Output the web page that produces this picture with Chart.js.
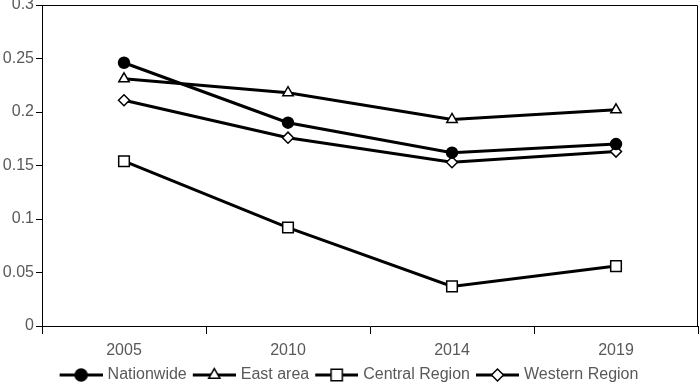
<!doctype html>
<html lang="en">
  <head>
    <meta charset="utf-8">
    <title>Regional index 2005-2019</title>
    <script src="https://cdn.jsdelivr.net/npm/chart.js"></script>
    <style>
      html, body { margin: 0; padding: 0; background: #fff; }
      #wrap { width: 699px; height: 383px; }
    </style>
  </head>
  <body>
    <div id="wrap"><canvas id="lineChart" width="699" height="383"></canvas></div>
    <script>
    // data
    const years = ['2005', '2010', '2014', '2019'];
    const nationwide = [0.246, 0.190, 0.162, 0.170];
    const eastArea = [0.231, 0.218, 0.193, 0.202];
    const centralRegion = [0.154, 0.092, 0.037, 0.056];
    const westernRegion = [0.211, 0.176, 0.153, 0.163];
    const yTickLabels = ['0', '0.05', '0.1', '0.15', '0.2', '0.25', '0.3'];

    const textGray = '#595959';
    const fontName = "'Liberation Sans', Arial, sans-serif";

    // marker styles for each series
    const markers = [
      { style: 'circle', radius: 5.5, fill: '#000' },
      { style: 'triangle', radius: 6, fill: '#fff' },
      { style: 'rect', radius: 7.5, fill: '#fff' },
      { style: 'rectRot', radius: 5.5, fill: '#fff' }
    ];

    // legend icon: short line with the marker in the middle
    function makeIcon(m) {
      const c = document.createElement('canvas');
      c.width = 46;
      c.height = 20;
      const g = c.getContext('2d');
      g.strokeStyle = '#000';
      g.lineWidth = 3;
      g.beginPath();
      g.moveTo(3, 10);
      g.lineTo(46, 10);
      g.stroke();
      g.fillStyle = m.fill;
      g.lineWidth = 1.5;
      Chart.helpers.drawPoint(g, { pointStyle: m.style, radius: m.radius + 0.5, rotation: 0, borderWidth: 1.5 }, 24.5, 10);
      return c;
    }
    const icons = markers.map(makeIcon);

    function makeSet(label, values, m) {
      return {
        label: label,
        data: values,
        borderColor: '#000',
        borderWidth: 3,
        pointStyle: m.style,
        pointRadius: m.radius,
        pointHoverRadius: m.radius,
        pointBackgroundColor: m.fill,
        pointBorderColor: '#000',
        pointBorderWidth: 1.5,
        tension: 0,
        fill: false
      };
    }

    // thin frame round the plot area (top and right edges)
    const plotFrame = {
      id: 'plotFrame',
      beforeDatasetsDraw(chart) {
        const a = chart.chartArea;
        const ctx = chart.ctx;
        ctx.save();
        ctx.strokeStyle = '#000';
        ctx.lineWidth = 1;
        ctx.beginPath();
        ctx.moveTo(Math.round(a.left) + 0.5, Math.round(a.top) + 0.5);
        ctx.lineTo(Math.round(a.right) - 0.5, Math.round(a.top) + 0.5);
        ctx.lineTo(Math.round(a.right) - 0.5, Math.round(a.bottom) + 0.5);
        ctx.stroke();
        ctx.restore();
      }
    };

    const ctx = document.getElementById('lineChart').getContext('2d');
    const chart = new Chart(ctx, {
      type: 'line',
      data: {
        labels: years,
        datasets: [
          makeSet('Nationwide', nationwide, markers[0]),
          makeSet('East area', eastArea, markers[1]),
          makeSet('Central Region', centralRegion, markers[2]),
          makeSet('Western Region', westernRegion, markers[3])
        ]
      },
      options: {
        responsive: false,
        animation: false,
        devicePixelRatio: 1,
        layout: { autoPadding: false, padding: { top: 0, right: 1, bottom: -10, left: 0 } },
        plugins: {
          tooltip: { enabled: false },
          legend: {
            position: 'bottom',
            labels: {
              usePointStyle: true,
              pointStyleWidth: 40,
              padding: 6,
              color: textGray,
              font: { family: fontName, size: 16 },
              generateLabels: function (c) {
                const items = Chart.defaults.plugins.legend.labels.generateLabels(c);
                return items.map((it, i) => Object.assign(it, { pointStyle: icons[i], fontColor: textGray }));
              }
            }
          }
        },
        scales: {
          x: {
            offset: true,
            afterFit: function (s) { s.height = 35; s.paddingLeft = 0; s.paddingRight = 0; },
            grid: { offset: true, drawOnChartArea: false, drawTicks: true, tickLength: 8, color: '#000' },
            border: { color: '#000', width: 1 },
            ticks: { color: textGray, padding: 7, font: { family: fontName, size: 16 } }
          },
          y: {
            min: 0,
            max: 0.3,
            afterFit: function (s) { s.width = 42; s.paddingTop = 5; s.paddingBottom = 0; },
            grid: { drawOnChartArea: false, drawTicks: true, tickLength: 6, color: '#000' },
            border: { color: '#000', width: 1 },
            ticks: {
              stepSize: 0.05,
              padding: 2,
              color: textGray,
              font: { family: fontName, size: 16 },
              callback: function (v, i) { return yTickLabels[i]; }
            }
          }
        }
      },
      plugins: [plotFrame]
    });
    </script>
  </body>
</html>
